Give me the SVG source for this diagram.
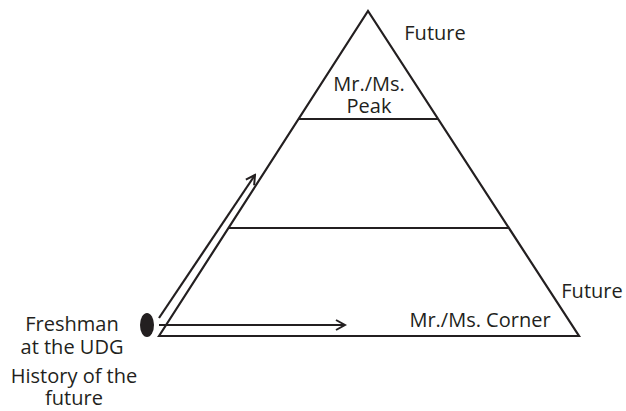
<svg xmlns="http://www.w3.org/2000/svg" width="626" height="411" viewBox="0 0 626 411">
<style>
.ln{stroke:#231f20;stroke-width:2.2;fill:none}
.t{font-family:"Open Sans","Liberation Sans",sans-serif;font-size:20px;fill:#231f20;text-anchor:middle}
</style>
<defs>
<marker id="ah" markerWidth="12" markerHeight="12" refX="10" refY="6" orient="auto" markerUnits="userSpaceOnUse">
<path d="M1,1 L10,6 L1,11" fill="none" stroke="#231f20" stroke-width="2"/>
</marker>
</defs>
<rect width="626" height="411" fill="#fff"/>
<g id="pyramid">
<path class="ln" d="M159,336 L368,11 L579,336 Z"/>
<line class="ln" x1="298" y1="119" x2="438" y2="119"/>
<line class="ln" x1="229" y1="228" x2="509" y2="228"/>
</g>
<g id="peak"><text class="t" x="369" y="91">Mr./Ms.<tspan x="369" y="113">Peak</tspan></text></g>
<g id="corner"><text class="t" x="480" y="327">Mr./Ms. Corner</text></g>
<g id="future-top"><text class="t" x="435" y="40">Future</text></g>
<g id="future-right"><text class="t" x="592" y="298">Future</text></g>
<g id="freshman">
<ellipse cx="147" cy="325" rx="7" ry="12" fill="#231f20"/>
<text class="t" x="72" y="331">Freshman<tspan x="72" y="354">at the UDG</tspan></text>
</g>
<g id="history"><text class="t" x="74" y="383">History of the<tspan x="74" y="405">future</tspan></text></g>
<g id="connectors">
<line class="ln" x1="159" y1="318" x2="255" y2="175" marker-end="url(#ah)"/>
<line class="ln" x1="159" y1="325" x2="345" y2="325" marker-end="url(#ah)"/>
</g>
</svg>
